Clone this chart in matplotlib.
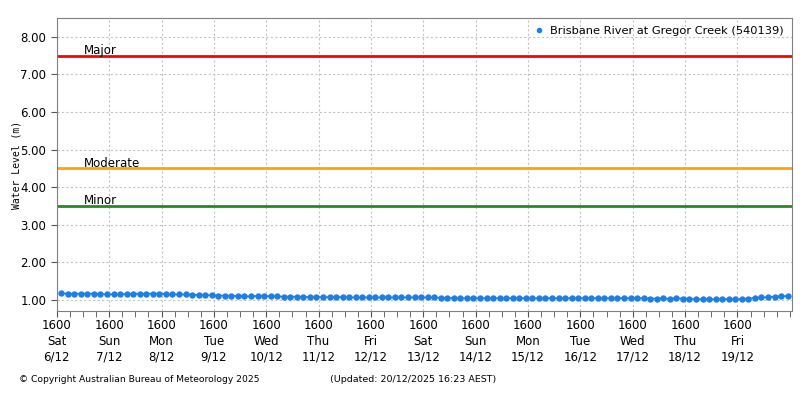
import matplotlib
matplotlib.use("Agg")
import matplotlib.pyplot as plt
import matplotlib.dates as mdates
import numpy as np
import pandas as pd

# 3-hourly readings, 6/12 18:00 to 20/12 15:00
start_time = "2025-12-06 18:00"
levels = [
    1.18, 1.17, 1.17, 1.17, 1.17, 1.17, 1.16, 1.15,
    1.15, 1.15, 1.16, 1.17, 1.17, 1.17, 1.17, 1.17,
    1.16, 1.15, 1.15, 1.15, 1.14, 1.14, 1.13, 1.13,
    1.12, 1.12, 1.11, 1.11, 1.10, 1.10, 1.11, 1.11,
    1.10, 1.10, 1.09, 1.09, 1.09, 1.09, 1.08, 1.08,
    1.08, 1.08, 1.08, 1.08, 1.07, 1.07, 1.07, 1.07,
    1.07, 1.07, 1.07, 1.07, 1.07, 1.07, 1.07, 1.07,
    1.07, 1.07, 1.06, 1.06, 1.05, 1.05, 1.05, 1.05,
    1.05, 1.05, 1.05, 1.05, 1.05, 1.05, 1.05, 1.05,
    1.05, 1.05, 1.05, 1.05, 1.05, 1.05, 1.05, 1.05,
    1.05, 1.05, 1.05, 1.05, 1.05, 1.05, 1.05, 1.05,
    1.05, 1.05, 1.04, 1.04, 1.05, 1.03, 1.05, 1.04,
    1.04, 1.02, 1.02, 1.02, 1.02, 1.03, 1.02, 1.02,
    1.03, 1.04, 1.06, 1.07, 1.08, 1.09, 1.10, 1.11,
]
times = pd.date_range(start_time, periods=len(levels), freq="3h")

# flood classification levels
class_names = ["Major", "Moderate", "Minor"]
class_levels = [7.5, 4.5, 3.5]
class_colors = ["#ff0000", "#ffa500", "#228b22"]

day_labels = pd.date_range("2025-12-06 16:00", "2025-12-19 16:00", freq="1D")
yticks = [1, 2, 3, 4, 5, 6, 7, 8]

blue = "#1c7ee8"

fig = plt.figure(figsize=(8, 4), dpi=100)
ax = fig.add_axes([0.071, 0.2225, 0.919, 0.7325])

for name, lev, col in zip(class_names, class_levels, class_colors):
    ax.axhline(lev, color=col, lw=2, zorder=2)
    ax.text(0.037, lev - 0.03, name, transform=ax.get_yaxis_transform(),
            fontsize=8.5, va="bottom", ha="left", color="black", zorder=4)

ax.plot(times, levels, color=blue, lw=1.2, marker="o", ms=4.6,
        markeredgewidth=0, zorder=3, label="Brisbane River at Gregor Creek (540139)")

ax.set_xlim(pd.Timestamp("2025-12-06 16:00"), pd.Timestamp("2025-12-20 17:00"))
ax.set_ylim(0.71, 8.5)

ax.set_yticks(yticks)
ax.set_yticklabels([f"{v:.2f}" for v in yticks], fontsize=8.5)
ax.set_xticks(day_labels)
ax.set_xticklabels([d.strftime("1600\n%a\n") + f"{d.day}/{d.month}" for d in day_labels],
                   fontsize=8.5, linespacing=1.25)
ax.xaxis.set_minor_locator(mdates.HourLocator(byhour=[4, 10, 16, 22]))
ax.tick_params(axis="x", which="both", direction="out", length=4, color="#555555", pad=2)
ax.tick_params(axis="y", direction="out", length=4, color="#555555")

ax.grid(True, which="major", ls=(0, (2, 2)), color="#c4c4c4", lw=0.8)
for s in ax.spines.values():
    s.set_color("#808080")

ax.set_ylabel("Water Level (m)", fontsize=7, family="DejaVu Sans Mono", labelpad=-0.5)

ax.legend(loc="upper right", frameon=False, fontsize=8.2, handlelength=0.8,
          handletextpad=0.6, borderaxespad=0.3)
leg = ax.get_legend()
for h in leg.legend_handles:
    h.set_linestyle("none")
    h.set_marker("o")
    h.set_markersize(4)

fig.text(0.024, 0.05, "© Copyright Australian Bureau of Meteorology 2025", fontsize=6.6, va="center")
fig.text(0.412, 0.05, "(Updated: 20/12/2025 16:23 AEST)", fontsize=6.8, va="center")

fig.savefig("out.png", dpi=100)
